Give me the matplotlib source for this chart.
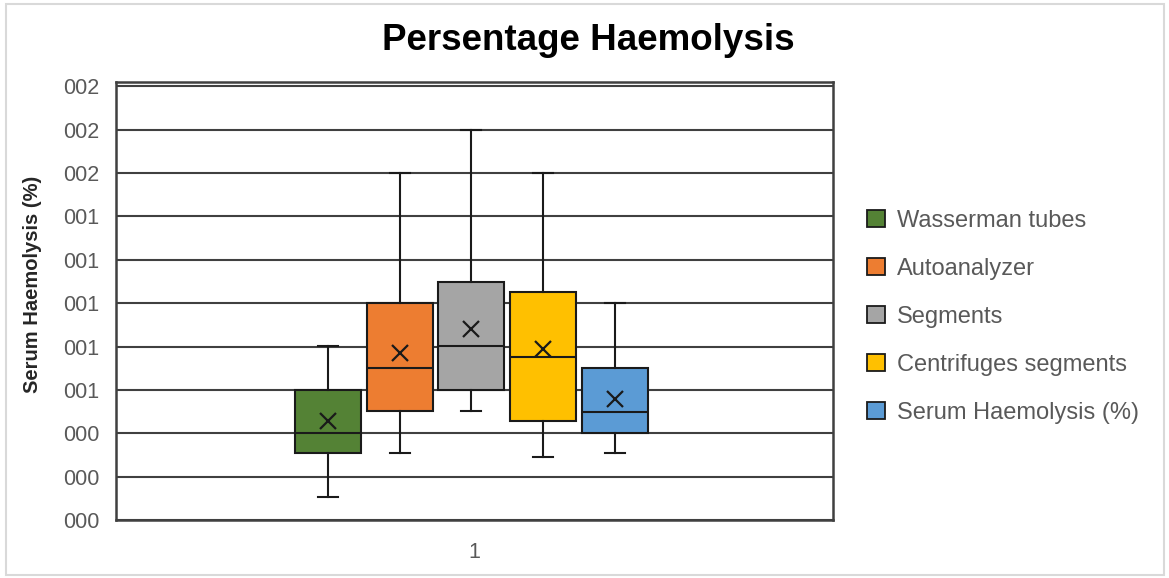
import matplotlib
matplotlib.use("Agg")
import matplotlib.pyplot as plt
from matplotlib.patches import Patch, Rectangle
from matplotlib.ticker import FuncFormatter, MultipleLocator

# Box statistics per collection method (fraction haemolysis)
methods = ["Wasserman tubes", "Autoanalyzer", "Segments",
           "Centrifuges segments", "Serum Haemolysis (%)"]
whisker_low = [0.000106, 0.000309, 0.000502, 0.000290, 0.000309]
q1 = [0.000309, 0.000502, 0.000599, 0.000456, 0.000400]
median = [0.000401, 0.000700, 0.000802, 0.000750, 0.000500]
q3 = [0.000599, 0.001000, 0.001097, 0.001050, 0.000700]
whisker_high = [0.000802, 0.001600, 0.001800, 0.001600, 0.001000]
mean = [0.000456, 0.000770, 0.000880, 0.000790, 0.000558]

colors = ["#548235", "#ED7D31", "#A5A5A5", "#FFC000", "#5B9BD5"]
offsets = [-0.204, -0.104, -0.005, 0.096, 0.196]

FONT = "Liberation Sans"
TEXT_GREY = "#595959"
LINE_DARK = "#404040"

W, H = 1169, 578
fig = plt.figure(figsize=(W / 100, H / 100), dpi=100)
fig.patches.append(Rectangle((6 / W, 3 / H), 1158 / W, 571 / H,
                             transform=fig.transFigure, fill=False,
                             edgecolor="#d9d9d9", lw=1.5))

ax = fig.add_axes([116 / W, 1 - 520 / H, 717 / W, 438 / H])

stats = []
for i, name in enumerate(methods):
    stats.append({
        "label": name,
        "whislo": whisker_low[i], "q1": q1[i], "med": median[i],
        "q3": q3[i], "whishi": whisker_high[i], "mean": mean[i],
        "fliers": [],
    })

positions = [1 + o for o in offsets]
bp = ax.bxp(stats, positions=positions, widths=0.092, capwidths=0.028,
            patch_artist=True, showmeans=True, manage_ticks=False,
            boxprops=dict(edgecolor="#1a1a1a", linewidth=1.5),
            medianprops=dict(color="#1a1a1a", linewidth=1.5),
            whiskerprops=dict(color="#1a1a1a", linewidth=1.5),
            capprops=dict(color="#1a1a1a", linewidth=1.5),
            meanprops=dict(marker="x", markeredgecolor="#1a1a1a",
                           markersize=12, markeredgewidth=1.6))
for box, c in zip(bp["boxes"], colors):
    box.set_facecolor(c)
for artist in bp["boxes"] + bp["medians"] + bp["whiskers"] + bp["caps"] + bp["means"]:
    artist.set_zorder(3)

ax.set_xlim(0.5, 1.5)
ax.set_ylim(0, 0.00202)
ax.set_xticks([1])
ax.set_xticklabels(["1"])
ax.yaxis.set_major_locator(MultipleLocator(0.0002))
ax.yaxis.set_major_formatter(FuncFormatter(lambda v, _: f"{v:.3f}"[2:]))
ax.grid(axis="y", color=LINE_DARK, linewidth=1.5, zorder=0)
ax.set_axisbelow(True)
for s in ax.spines.values():
    s.set_color(LINE_DARK)
    s.set_linewidth(1.8)
ax.tick_params(length=0, pad=12, labelsize=15.5, labelcolor=TEXT_GREY)
ax.tick_params(axis="x", pad=16)
for lbl in ax.get_xticklabels() + ax.get_yticklabels():
    lbl.set_fontfamily(FONT)

fig.text(33 / W, 1 - 284 / H, "Serum Haemolysis (%)", fontfamily=FONT,
         fontsize=14.5, fontweight="bold", color="#262626",
         rotation=90, ha="center", va="center")
fig.text(588 / W, 1 - 41 / H, "Persentage Haemolysis", fontfamily=FONT,
         fontsize=26.5, fontweight="bold", ha="center", va="center")

handles = [Patch(facecolor=c, edgecolor="#1a1a1a", linewidth=1.3) for c in colors]
leg = fig.legend(handles, methods, loc="center left",
                 bbox_to_anchor=(846 / W, 1 - 317 / H),
                 frameon=False, prop={"family": FONT, "size": 17},
                 handlelength=0.75, handleheight=0.75, handletextpad=0.5,
                 labelspacing=1.1)
for t in leg.get_texts():
    t.set_color(TEXT_GREY)

fig.savefig("out.png", dpi=100)
